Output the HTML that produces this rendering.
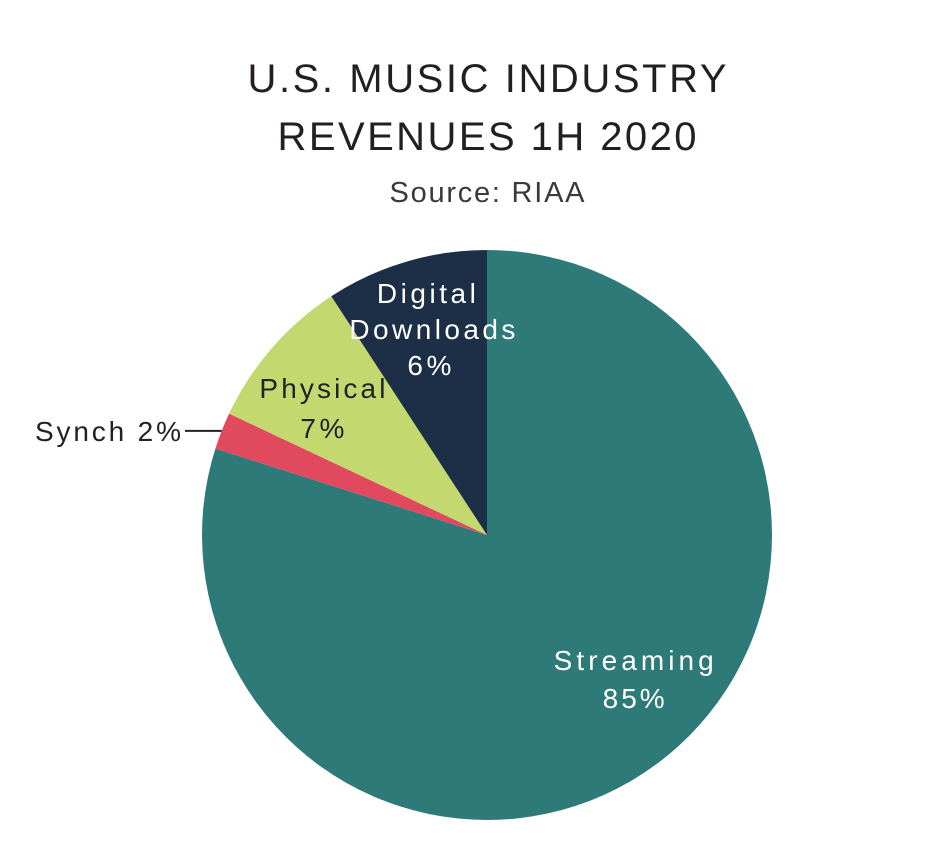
<!DOCTYPE html>
<html><head><meta charset="utf-8"><style>
body{margin:0;background:#fff;}
svg{display:block;font-family:"Liberation Sans",sans-serif;}
</style></head><body>
<svg id="chart" width="944" height="856" viewBox="0 0 944 856">
<text x="487" y="92" text-anchor="middle" font-size="40" fill="#231f20" textLength="479" lengthAdjust="spacing">U.S. MUSIC INDUSTRY</text>
<text x="487" y="150" text-anchor="middle" font-size="40" fill="#231f20" textLength="419" lengthAdjust="spacing">REVENUES 1H 2020</text>
<text x="487" y="202" text-anchor="middle" font-size="29" fill="#3a3a3a" textLength="195" lengthAdjust="spacing">Source: RIAA</text>
<g id="slices"></g>
<g id="labels"></g>
</svg>
<script>
const categories = ["Streaming", "Synch", "Physical", "Digital Downloads"];
const values = [79.9, 2.1, 8.8, 9.2];
const pctLabels = ["85%", "2%", "7%", "6%"];
const colors = ["#2e7a78", "#e0495e", "#c3d970", "#1c2f47"];
const cx = 487, cy = 535, r = 285;
const total = values.reduce((a, b) => a + b, 0);
function pt(frac, rad) {
  const a = frac * 2 * Math.PI;
  return [cx + rad * Math.sin(a), cy - rad * Math.cos(a)];
}
const NS = "http://www.w3.org/2000/svg";
const g = document.getElementById("slices");
const lg = document.getElementById("labels");
let acc = 0;
const mids = [];
values.forEach((v, i) => {
  const s = acc / total, e = (acc + v) / total;
  acc += v;
  const [x1, y1] = pt(s, r), [x2, y2] = pt(e, r);
  const large = (e - s) > 0.5 ? 1 : 0;
  const p = document.createElementNS(NS, "path");
  p.setAttribute("d", `M${cx},${cy} L${x1},${y1} A${r},${r} 0 ${large} 1 ${x2},${y2} Z`);
  p.setAttribute("fill", colors[i]);
  
  
  g.appendChild(p);
  mids.push((s + e) / 2);
});
function addText(x, y, str, fill, anchor, name, len) {
  const t = document.createElementNS(NS, "text");
  t.setAttribute("x", x); t.setAttribute("y", y);
  t.setAttribute("fill", fill); t.setAttribute("font-size", "28");
  t.setAttribute("text-anchor", anchor || "middle");
  if (len) { t.setAttribute("textLength", len); t.setAttribute("lengthAdjust", "spacing"); }
  t.textContent = str;
  
  
  lg.appendChild(t);
}
// Streaming
let [sx, sy] = pt(mids[0], 0.64 * r);
addText(sx + 39, sy - 12, categories[0], "#fff", "middle", "label-streaming", 160);
addText(sx + 39, sy + 26, pctLabels[0], "#fff", "middle", "value-streaming", 62);
// Digital Downloads
let [dx, dy] = pt(mids[3], 0.82 * r);
addText(dx + 6, dy - 8, "Digital", "#fff", "middle", "label-digital", 99);
addText(dx + 12, dy + 28, "Downloads", "#fff", "middle", "label-downloads", 166);
addText(dx + 9, dy + 64, pctLabels[3], "#fff", "middle", "value-digital", 44);
// Physical
let [px, py] = pt(mids[2], 0.64 * r);
addText(px - 27, py - 17, categories[2], "#222", "middle", "label-physical", 126);
addText(px - 27, py + 23, pctLabels[2], "#222", "middle", "value-physical", 44);
// Synch with leader line
let [lx, ly] = pt(mids[1], r);
const ln = document.createElementNS(NS, "line");
ln.setAttribute("x1", 185); ln.setAttribute("y1", ly);
ln.setAttribute("x2", lx); ln.setAttribute("y2", ly);
ln.setAttribute("stroke", "#222"); ln.setAttribute("stroke-width", "2");


lg.appendChild(ln);
addText(181, ly + 10, categories[1] + " " + pctLabels[1], "#222", "end", "label-synch", 146);
</script>
</body></html>
